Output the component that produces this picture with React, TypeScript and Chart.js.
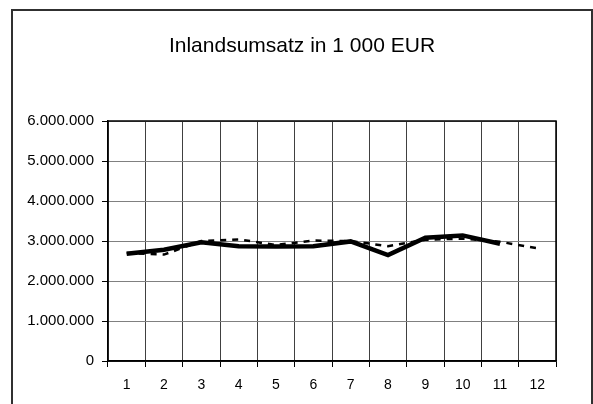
import React, { useEffect, useRef } from "react";
import { Chart, registerables } from "chart.js";

Chart.register(...registerables);

const months = ["1", "2", "3", "4", "5", "6", "7", "8", "9", "10", "11", "12"];
const solidSeries = [2680000, 2780000, 2970000, 2870000, 2860000, 2870000, 2990000, 2650000, 3080000, 3140000, 2930000, null];
const dashedSeries = [2700000, 2660000, 3000000, 3040000, 2900000, 3010000, 3000000, 2870000, 3030000, 3060000, 2980000, 2820000];
const yTicks = [0, 1000000, 2000000, 3000000, 4000000, 5000000, 6000000];
const titleText = "Inlandsumsatz in 1 000 EUR";

const FONT = "'Liberation Sans', Arial, sans-serif";

function fmt(v: number): string {
  return Math.round(v).toString().replace(/\B(?=(\d{3})+(?!\d))/g, ".");
}

const framePlugin = {
  id: "framePlugin",
  beforeDraw(chart: any) {
    const ctx = chart.ctx;
    ctx.save();
    ctx.fillStyle = "#ffffff";
    ctx.fillRect(0, 0, chart.width, chart.height);
    ctx.strokeStyle = "#303030";
    ctx.lineWidth = 2;
    ctx.beginPath();
    ctx.moveTo(12, chart.height + 2);
    ctx.lineTo(12, 10);
    ctx.lineTo(592, 10);
    ctx.lineTo(592, chart.height + 2);
    ctx.stroke();
    ctx.fillStyle = "#000000";
    ctx.font = `21px ${FONT}`;
    ctx.textAlign = "center";
    ctx.textBaseline = "alphabetic";
    ctx.fillText(titleText, 302, 52);
    ctx.restore();
  },
  afterDatasetsDraw(chart: any) {
    const { ctx, chartArea } = chart;
    ctx.save();
    ctx.strokeStyle = "#000000";
    ctx.lineWidth = 1.5;
    ctx.strokeRect(chartArea.left, chartArea.top, chartArea.right - chartArea.left, chartArea.bottom - chartArea.top);
    ctx.restore();
  },
};

export default function App() {
  const ref = useRef<HTMLCanvasElement | null>(null);
  useEffect(() => {
    if (!ref.current) return;
    const chart = new Chart(ref.current, {
      type: "line",
      data: {
        labels: months,
        datasets: [
          {
            label: "dashed",
            data: dashedSeries,
            borderColor: "#000000",
            borderWidth: 2.5,
            borderDash: [6, 6],
            pointRadius: 0,
            tension: 0,
            fill: false,
          },
          {
            label: "solid",
            data: solidSeries,
            borderColor: "#000000",
            borderWidth: 4.5,
            pointRadius: 0,
            tension: 0,
            fill: false,
            spanGaps: false,
          },
        ],
      },
      options: {
        animation: false,
        responsive: false,
        maintainAspectRatio: false,
        devicePixelRatio: 1,
        layout: { padding: { left: 0, top: 121, right: 37, bottom: 0 } },
        plugins: {
          legend: { display: false },
          title: { display: false },
          tooltip: { enabled: false },
        },
        scales: {
          x: {
            offset: true,
            grid: {
              offset: true,
              color: "#404040",
              lineWidth: 1,
              tickLength: 6,
              tickColor: "#000000",
            },
            border: { color: "#000000", width: 1.5 },
            ticks: {
              color: "#000000",
              font: { family: FONT, size: 14 },
              padding: 10,
              maxRotation: 0,
              autoSkip: false,
            },
            afterFit(scale: any) {
              scale.height = 43;
            },
          },
          y: {
            min: 0,
            max: 6000000,
            afterBuildTicks(scale: any) {
              scale.ticks = yTicks.map((v) => ({ value: v }));
            },
            grid: {
              color: "#808080",
              lineWidth: 1,
              tickLength: 6,
              tickColor: "#000000",
            },
            border: { color: "#000000", width: 1.5 },
            ticks: {
              color: "#000000",
              font: { family: FONT, size: 15 },
              padding: 8,
              callback: (v: any) => fmt(Number(v)),
            },
            afterFit(scale: any) {
              scale.width = 108;
            },
          },
        },
      },
      plugins: [framePlugin],
    });
    return () => chart.destroy();
  }, []);
  return (
    <div style={{ position: "fixed", left: 0, top: 0, width: 593, height: 404, background: "#fff" }}>
      <canvas ref={ref} width={593} height={404} style={{ width: 593, height: 404, display: "block" }} />
    </div>
  );
}
